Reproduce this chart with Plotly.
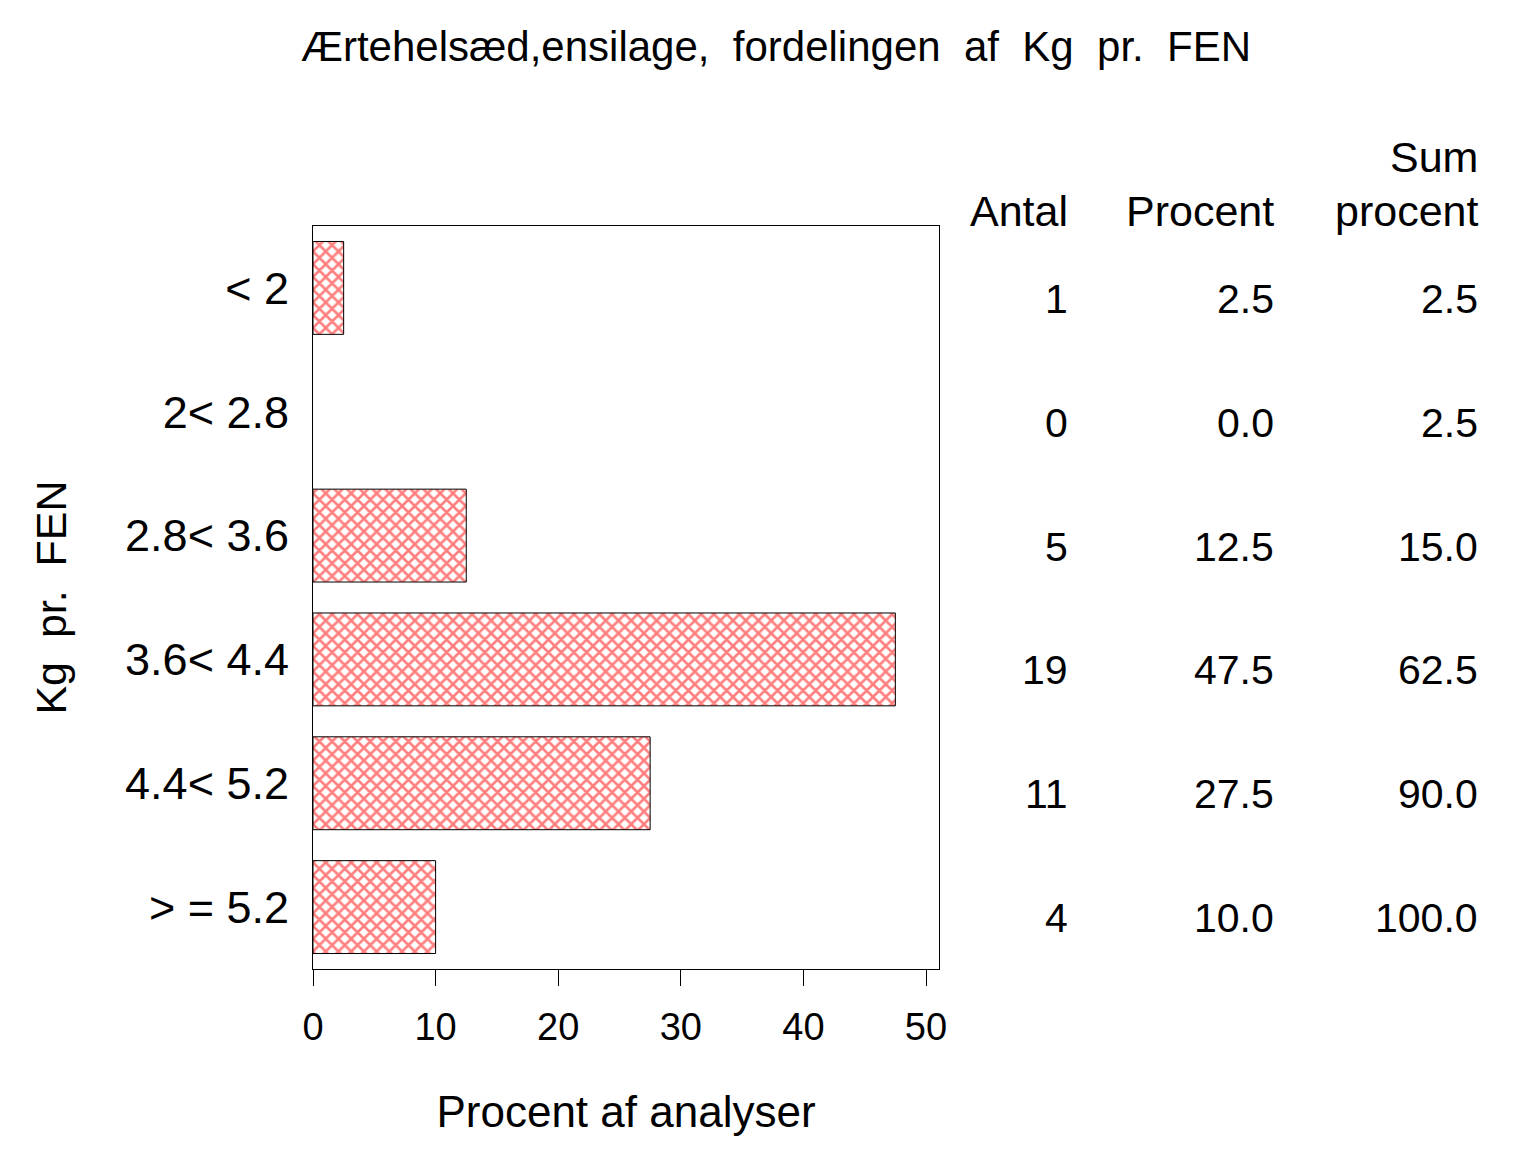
import plotly.graph_objects as go

# data
categories = ["< 2", "2< 2.8", "2.8< 3.6", "3.6< 4.4", "4.4< 5.2", "> = 5.2"]
antal = [1, 0, 5, 19, 11, 4]
procent = [2.5, 0.0, 12.5, 47.5, 27.5, 10.0]
sum_procent = [2.5, 2.5, 15.0, 62.5, 90.0, 100.0]
x_ticks = [0, 10, 20, 30, 40, 50]

FONT = "'Liberation Sans', Arial, Helvetica, sans-serif"

fig = go.Figure()
fig.add_trace(go.Bar(
    y=categories,
    x=procent,
    orientation='h',
    width=0.75,
    marker=dict(
        color='white',
        line=dict(color='black', width=[1 if v > 0 else 0 for v in procent]),
        pattern=dict(shape='x', fgcolor='#ff0000', bgcolor='white', size=9, solidity=0.5),
    ),
    showlegend=False,
))

# table to the right of the plot
cols = [(1.21, "Antal", antal, "{:d}"),
        (1.539, "Procent", procent, "{:.1f}"),
        (1.864, "procent", sum_procent, "{:.1f}")]
for xpos, head, vals, fmt in cols:
    fig.add_annotation(x=xpos, y=1.02, xref='paper', yref='paper', text=head,
                       showarrow=False, xanchor='right', yanchor='middle',
                       font=dict(size=43))
    for cat, v in zip(categories, vals):
        fig.add_annotation(x=xpos, y=cat, xref='paper', yref='y', text=fmt.format(v),
                           showarrow=False, xanchor='right', yanchor='middle',
                           yshift=-11, font=dict(size=41))
fig.add_annotation(x=1.864, y=1.093, xref='paper', yref='paper', text="Sum",
                   showarrow=False, xanchor='right', yanchor='middle',
                   font=dict(size=43))

fig.update_layout(
    width=1536, height=1152,
    paper_bgcolor='white', plot_bgcolor='white',
    font=dict(family=FONT, size=42, color='black'),
    margin=dict(l=305, r=605, t=218, b=191),
    title=dict(text="Ærtehelsæd,ensilage,  fordelingen  af  Kg  pr.  FEN",
               x=0.5, xanchor='center', y=1 - 38 / 1152, yanchor='middle',
               font=dict(size=42)),
    xaxis=dict(
        range=[0, 51.06], tickvals=x_ticks, ticks='outside', ticklen=16,
        tickcolor='black', showline=True, linecolor='black', linewidth=1, mirror=True,
        showgrid=False, zeroline=False, ticklabelstandoff=8, tickfont=dict(size=38),
        title=dict(text="Procent af analyser", standoff=49, font=dict(size=44)),
    ),
    yaxis=dict(
        categoryorder='array', categoryarray=categories[::-1],
        range=[-0.5, 5.5], showline=True, linecolor='black', linewidth=1, mirror=True,
        showgrid=False, zeroline=False, ticks='', ticklabelstandoff=14,
        tickfont=dict(size=45),
        title=dict(text="Kg  pr.  FEN", standoff=45, font=dict(size=43)),
    ),
)

fig.write_html("out.html")
